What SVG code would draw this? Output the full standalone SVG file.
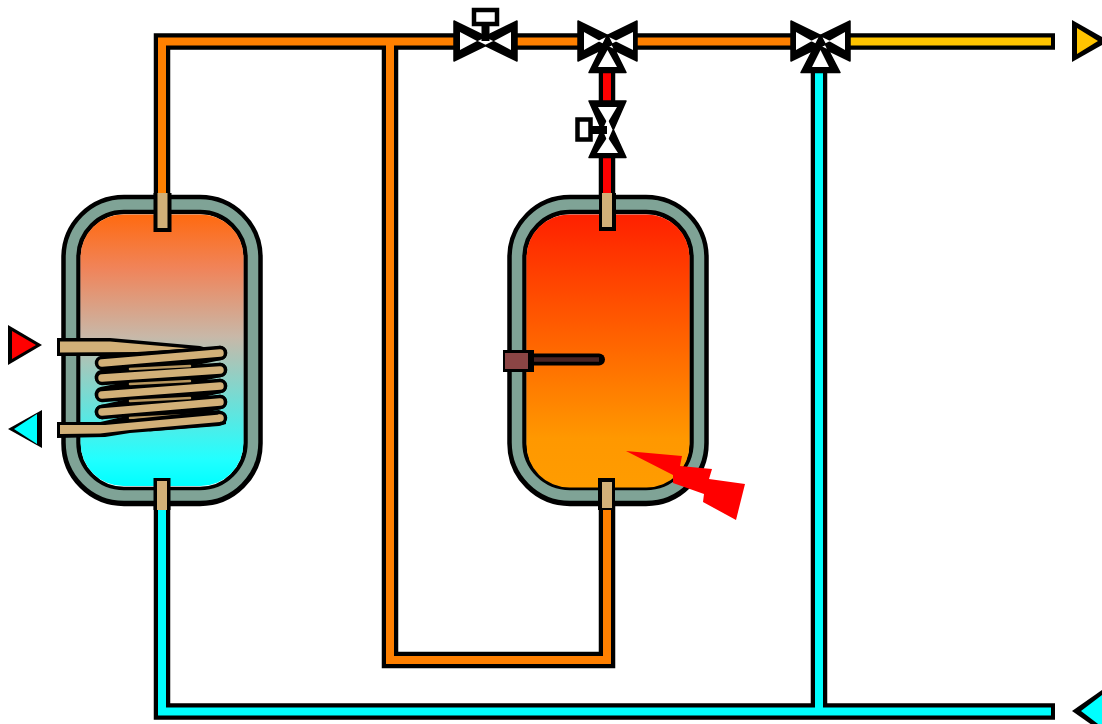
<svg xmlns="http://www.w3.org/2000/svg" width="1102" height="724" viewBox="0 0 1102 724">
<defs>
<linearGradient id="gradMix" x1="0" y1="0" x2="0" y2="1">
<stop offset="0" stop-color="#ff6a10"/><stop offset="0.2" stop-color="#f0845a"/><stop offset="0.45" stop-color="#c8b8a8"/><stop offset="0.9" stop-color="#22ffff"/><stop offset="1" stop-color="#00ffff"/>
</linearGradient>
<linearGradient id="gradHot" x1="0" y1="0" x2="0" y2="1">
<stop offset="0" stop-color="#ff2000"/><stop offset="0.82" stop-color="#ff9800"/><stop offset="1" stop-color="#ff9c00"/>
</linearGradient>
</defs>
<style>
.pb{fill:none;stroke:#000;stroke-width:16.500;stroke-linejoin:miter}
.pc{fill:none;stroke-width:8;stroke-linejoin:miter}
.orange{stroke:#ff8000}.cyan{stroke:#00ffff}.yellow{stroke:#ffc400}.red{stroke:#ff0000}
.vb{fill:#000;stroke:#000;stroke-width:1.500;stroke-linejoin:round}
.vw{fill:#fff}
.act{fill:#fff;stroke:#000;stroke-width:4.500}
.shell1{fill:none;stroke:#000;stroke-width:19.500}
.shell2{fill:none;stroke:#7fa396;stroke-width:10.500}
.stubb{fill:#000}.stubt{fill:#d2b078}
.coilb{fill:none;stroke:#000;stroke-width:14.500;stroke-linecap:round}
.coilt{fill:none;stroke:#d2b078;stroke-width:7.500;stroke-linecap:round}
.sliver{fill:none;stroke:#b8975f;stroke-width:2.500;stroke-linecap:round}
</style>
<g id="connectors">
<path class="pb" d="M162 195V41.500H460M390 41.500V660H607V505M162 505V711.500H1055M819 70V711.500M515 41.500H585M630 41.500H800M845 41.500H1055M607 65V105M607 155V197"/>
<path class="pc orange" d="M162 195V41.500H460M390 41.500V660H607V507M515 41.500H585M630 41.500H800"/>
<path class="pc cyan" d="M162 507V711.500H1051M819 70V711.500"/>
<path class="pc yellow" d="M845 41.500H1051"/>
<path class="pc red" d="M607 65V105M607 155V197"/>
</g>
<g id="tank-left">
<rect class="shell1" x="71" y="204.500" width="182" height="292" rx="53"/>
<rect class="shell2" x="71" y="204.500" width="182" height="291" rx="53"/>
<rect x="80.500" y="214.500" width="163" height="271.500" rx="43" fill="url(#gradMix)"/>
<rect class="stubb" x="153.500" y="193" width="18" height="39"/>
<rect class="stubt" x="157.500" y="193" width="10" height="35"/>
<rect class="stubb" x="153.500" y="478" width="17" height="32"/>
<rect class="stubt" x="157" y="481" width="10" height="29"/>
</g>
<g id="coil">
<polygon points="57,338 110,338 200,346 220,352 137,356 57,356" fill="#000"/>
<polygon points="60,341.500 110,341.500 190,348.500 137,352 60,352.500" fill="#d2b078"/>
<path class="coilb" d="M220 353L102 377M220 370L102 394M220 386L102 412M220 402L102 429"/>
<path class="coilb" d="M102 363L220 353M102 378L220 370M102 395L220 386M102 412L220 402M150 424L220 418"/>
<path class="sliver" d="M130 369L190 366M130 384L190 381M130 401L190 398M130 418L190 415"/>
<path class="coilt" d="M102 363L220 353M102 378L220 370M102 395L220 386M102 412L220 402"/>
<polygon points="57,422 105,422 219,410 226,414 226,424 219,426 130,433 105,437 57,438" fill="#000"/>
<polygon points="60,425 105,425 220,414.500 220,422 130,430 100,433.500 60,434" fill="#d2b078"/>
<circle cx="220" cy="418" r="3.800" fill="#d2b078"/>
</g>
<g id="tank-right">
<rect class="shell1" x="517" y="204.500" width="182" height="292" rx="53"/>
<rect class="shell2" x="517" y="204.500" width="182" height="291" rx="53"/>
<rect x="526.500" y="214.500" width="163" height="273" rx="43" fill="url(#gradHot)"/>
<rect class="stubb" x="599" y="193" width="17" height="38"/>
<rect class="stubt" x="602" y="193" width="10" height="34"/>
<rect class="stubb" x="598" y="478" width="17" height="32"/>
<rect class="stubt" x="602" y="482" width="10" height="26"/>
<path d="M530 359.500H599" stroke="#000" stroke-width="12" stroke-linecap="round"/>
<path d="M530 359.500H599" stroke="#4a2424" stroke-width="4.500"/>
<rect x="503" y="350" width="31" height="22" fill="#000"/>
<rect x="505" y="353" width="23" height="16" fill="#8b4545"/>
</g>
<g id="flame">
<polygon points="626,451 682,456 680,466 712,469 709,479 745,484 736,520 703,502 704,494 673,483 673,475" fill="#ff0000"/>
</g>
<g id="valve-top">
<path d="M485.500 41V20" stroke="#000" stroke-width="8"/>
<rect class="act" x="474" y="10" width="23" height="14"/>
<path class="vb" d="M454 21V61L495 41ZM517 21V61L476 41Z"/>
<path class="vw" d="M460 32V50L477 41ZM511 32V50L494 41Z"/>
</g>
<g id="valve-mix-1">
<path class="vb" d="M578 21V61L619 41ZM637 21V61L596 41ZM589 72.500H626L607.500 35Z"/>
<path class="vw" d="M584 32V50L600 41ZM633 32V50L615 41ZM598 67H617L607.500 50Z"/>
</g>
<g id="valve-vertical">
<path d="M590 130H607" stroke="#000" stroke-width="8"/>
<rect class="act" x="577.500" y="119.500" width="13" height="20"/>
<path class="vb" d="M589 101H626L607.500 143ZM589 157.500H626L607.500 117Z"/>
<path class="vw" d="M598 107H617L607.500 123ZM597 153H618L607.500 137Z"/>
</g>
<g id="valve-mix-2">
<path class="vb" d="M791 21V61L832 41ZM850 21V61L809 41ZM801 72.500H840L820.500 35Z"/>
<path class="vw" d="M796 32V50L812 41ZM845 32V50L829 41ZM812 67H829L820.500 50Z"/>
</g>
<g id="terminals">
<polygon points="1072,20 1102,37 1102,45 1072,62" fill="#000"/>
<polygon points="1077,28 1098,41 1077,54" fill="#ffc400"/>
<polygon points="1072,711 1102,690 1102,732" fill="#000"/>
<polygon points="1081,711 1102,695 1102,727" fill="#00ffff"/>
<polygon points="8,325 42,345 8,365" fill="#000"/>
<polygon points="12,331 36,345 12,359" fill="#ff0000"/>
<polygon points="42,410 8,429 42,448" fill="#000"/>
<polygon points="37,414 14,429 37,444" fill="#00ffff"/>
</g>
</svg>
